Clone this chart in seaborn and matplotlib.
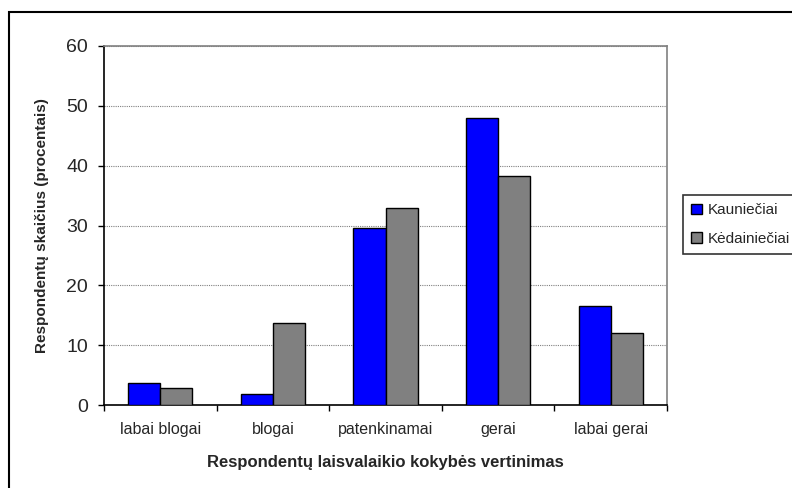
import pandas as pd
import matplotlib.pyplot as plt
import seaborn as sns
from matplotlib.patches import Rectangle

# =========================
# DATA
# =========================

categories = ["labai blogai", "blogai", "patenkinamai", "gerai", "labai gerai"]
groups = ["Kauniečiai", "Kėdainiečiai"]
kaunieciai = [3.6, 1.8, 29.5, 48.0, 16.6]
kedainieciai = [2.8, 13.7, 32.9, 38.2, 12.1]
y_ticks = [0, 10, 20, 30, 40, 50, 60]

df = pd.DataFrame({
    "cat": categories * 2,
    "val": kaunieciai + kedainieciai,
    "grp": [groups[0]] * 5 + [groups[1]] * 5,
})

# =========================
# STYLE
# =========================

sns.set_style("white")
plt.rcParams['font.family'] = ['Liberation Sans', 'DejaVu Sans']

fig = plt.figure(figsize=(7.92, 4.88), dpi=100)
ax = fig.add_axes([104 / 792, 1 - 405 / 488, 563 / 792, (405 - 46) / 488])

# =========================
# BAR PLOT
# =========================

sns.barplot(
    data=df,
    x="cat",
    y="val",
    hue="grp",
    order=categories,
    hue_order=groups,
    palette=["#0000FF", "#808080"],
    width=0.57,
    gap=0,
    edgecolor="black",
    linewidth=1,
    saturation=1,
    ax=ax,
    zorder=3,
)

ax.set_ylim(0, 60)
ax.set_xlim(-0.5, 4.5)
ax.set_yticks(y_ticks)
ax.tick_params(axis="y", labelsize=14, length=4.5, width=1, direction="out",
               pad=7, left=True, color="black")

# category labels centred, tick marks on the boundaries
ax.set_xticks(range(len(categories)))
ax.set_xticklabels(categories, fontsize=11.5)
ax.tick_params(axis="x", length=0, pad=12)
ax.set_xticks([i - 0.5 for i in range(len(categories) + 1)], minor=True)
ax.tick_params(axis="x", which="minor", length=4.5, width=1, direction="out",
               bottom=True, color="black")

ax.yaxis.grid(True, color="#808080", linestyle=(0, (1, 1)), linewidth=0.8, zorder=0)
ax.set_axisbelow(True)

for side in ["left", "bottom"]:
    ax.spines[side].set_color("black")
    ax.spines[side].set_linewidth(1.2)
for side in ["top", "right"]:
    ax.spines[side].set_color("#808080")
    ax.spines[side].set_linewidth(1.2)

ax.set_xlabel("Respondentų laisvalaikio kokybės vertinimas", fontsize=12,
              fontweight="bold", labelpad=13)
ax.set_ylabel("Respondentų skaičius (procentais)", fontsize=11,
              fontweight="bold", labelpad=12)

# =========================
# LEGEND
# =========================

handles, labels = ax.get_legend_handles_labels()
ax.get_legend().remove()
leg = fig.legend(
    handles, labels,
    loc="upper left",
    bbox_to_anchor=(683 / 792, 1 - 195 / 488),
    fontsize=11,
    frameon=True,
    fancybox=False,
    handlelength=0.7,
    handleheight=0.7,
    handletextpad=0.35,
    borderpad=0.55,
    labelspacing=0.95,
    borderaxespad=0,
)
leg.get_frame().set_edgecolor("black")
leg.get_frame().set_linewidth(1.2)

# outer chart frame
fig.patches.append(Rectangle((9 / 792, -0.1), 1.2, 1 - 12 / 488 + 0.1,
                             transform=fig.transFigure, fill=False,
                             edgecolor="black", linewidth=1.5))

plt.savefig("out.png", dpi=100)
plt.close()
